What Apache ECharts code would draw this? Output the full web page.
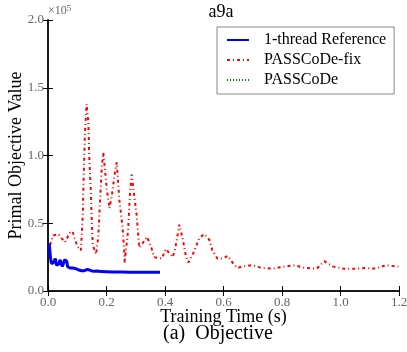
<!DOCTYPE html>
<html><head><meta charset="utf-8">
<script src="https://cdn.jsdelivr.net/npm/echarts@6/dist/echarts.min.js"></script>
<style>html,body{margin:0;padding:0;background:#fff}#c{width:407px;height:352px}</style>
</head><body><div id="c"></div>
<script>
const seriesNames = ['1-thread Reference', 'PASSCoDe-fix', 'PASSCoDe'];
const xTicks = [0, 0.2, 0.4, 0.6, 0.8, 1.0, 1.2];
const yTicks = [0, 0.5, 1.0, 1.5, 2.0];
// 1-thread Reference: [time (s), objective (x1e5)]
const refTime = [0.002,0.004,0.007,0.010,0.013,0.017,0.021,0.025,0.029,0.033,0.037,0.041,0.045,0.049,0.053,0.057,0.061,0.064,0.067,0.071,0.075,0.080,0.085,0.090,0.095,0.100,0.105,0.110,0.115,0.120,0.125,0.130,0.135,0.140,0.150,0.160,0.170,0.180,0.200,0.220,0.250,0.280,0.310,0.350,0.383];
const refObj  = [0.33,0.35,0.28,0.22,0.20,0.19,0.22,0.24,0.19,0.19,0.20,0.23,0.22,0.18,0.19,0.23,0.24,0.22,0.18,0.19,0.17,0.175,0.17,0.16,0.165,0.16,0.155,0.16,0.15,0.155,0.15,0.155,0.16,0.15,0.148,0.145,0.148,0.143,0.142,0.141,0.140,0.139,0.138,0.138,0.138];
// PASSCoDe-fix
const fixTime = [0.007,0.018,0.035,0.058,0.075,0.084,0.100,0.112,0.115,0.119,0.121,0.124,0.126,0.130,0.132,0.138,0.141,0.146,0.149,0.153,0.164,0.172,0.178,0.184,0.189,0.195,0.201,0.210,0.218,0.229,0.235,0.244,0.255,0.261,0.262,0.274,0.280,0.286,0.303,0.309,0.312,0.326,0.339,0.346,0.352,0.363,0.389,0.403,0.426,0.434,0.449,0.461,0.472,0.480,0.497,0.517,0.534,0.551,0.562,0.579,0.597,0.615,0.634,0.648,0.662,0.696,0.732,0.770,0.807,0.844,0.879,0.919,0.944,0.975,1.010,1.050,1.086,1.120,1.155,1.198];
const fixObj  = [0.34,0.41,0.42,0.36,0.43,0.44,0.33,0.30,0.40,0.57,0.77,0.99,1.15,1.31,1.38,1.24,0.99,0.75,0.55,0.34,0.27,0.40,0.67,0.92,1.02,0.89,0.75,0.61,0.70,0.88,0.95,0.67,0.47,0.28,0.21,0.45,0.71,0.86,0.56,0.40,0.32,0.36,0.40,0.36,0.33,0.25,0.24,0.31,0.25,0.30,0.49,0.38,0.25,0.21,0.28,0.39,0.42,0.38,0.30,0.24,0.24,0.26,0.20,0.17,0.18,0.19,0.17,0.165,0.18,0.19,0.17,0.165,0.22,0.18,0.165,0.165,0.17,0.165,0.19,0.18];
// PASSCoDe (not visible in the plot)
const pcTime = [];
const pcObj = [];

const zip = (a, b) => a.map((v, i) => [v, b[i]]);
const F = '"Liberation Serif", "DejaVu Serif", serif';
const chart = echarts.init(document.getElementById('c'));
chart.setOption({
  animation: false,
  grid: { left: 48, right: 8, top: 20, bottom: 61, outerBoundsMode: 'none', containLabel: false },
  legend: {
    left: 217, top: 27, orient: 'vertical', itemWidth: 22, itemHeight: 12, itemGap: 4,
    padding: [5, 8, 6, 9], borderColor: '#888', borderWidth: 1, backgroundColor: '#fff',
    itemStyle: { opacity: 0 },
    textStyle: { fontFamily: F, fontSize: 16, color: '#000', padding: [0, 0, 0, 10] },
    data: seriesNames
  },
  xAxis: [{
    type: 'value', min: 0, max: 1.2, interval: 0.2,
    name: 'Training Time (s)', nameLocation: 'middle', nameGap: 17, nameMoveOverlap: false,
    nameTextStyle: { fontFamily: F, fontSize: 18, color: '#000' },
    axisLine: { onZero: false, lineStyle: { color: '#666', width: 2 } },
    axisTick: { inside: true, length: 5, lineStyle: { color: '#000' } },
    axisLabel: { fontFamily: F, fontSize: 13, color: '#666', margin: 5, formatter: v => v.toFixed(1) },
    splitLine: { show: false }
  }, {
    type: 'value', position: 'top', min: 0, max: 1.2, interval: 0.2,
    axisLine: { show: true, lineStyle: { color: '#000', width: 1.5 } },
    axisTick: { inside: true, length: 5, lineStyle: { color: '#000' } },
    axisLabel: { show: false }, splitLine: { show: false }
  }],
  yAxis: [{
    type: 'value', min: 0, max: 2, interval: 0.5,
    name: 'Primal Objective Value', nameLocation: 'middle', nameGap: 23, nameMoveOverlap: false,
    nameTextStyle: { fontFamily: F, fontSize: 18, color: '#000' },
    axisLine: { show: true, onZero: false, lineStyle: { color: '#666', width: 2 } },
    axisTick: { show: true, inside: true, length: 5, lineStyle: { color: '#000' } },
    axisLabel: { fontFamily: F, fontSize: 13, color: '#666', margin: 4, formatter: v => v.toFixed(1) },
    splitLine: { show: false }
  }, {
    type: 'value', position: 'right', min: 0, max: 2, interval: 0.5,
    axisLine: { show: true, lineStyle: { color: '#000', width: 1.5 } },
    axisTick: { show: true, inside: true, length: 5, lineStyle: { color: '#000' } },
    axisLabel: { show: false }, splitLine: { show: false }
  }],
  graphic: [
    { type: 'text', x: 221, y: 3, style: { text: 'a9a', font: '18px ' + F, fill: '#000', textAlign: 'center' } },
    { type: 'text', x: 48, y: 4, style: { text: '×10{s|5}', rich: { s: { fontSize: 9, verticalAlign: 'top', fontFamily: F, fill: '#666', padding: [0, 0, 5, 0] } }, font: '12px ' + F, fill: '#666' } },
    { type: 'text', x: 218, y: 324, style: { text: '(a)  Objective', font: '20px ' + F, fill: '#000', textAlign: 'center' } }
  ],
  series: [
    { name: seriesNames[0], type: 'line', xAxisIndex: 0, yAxisIndex: 0, data: zip(refTime, refObj), showSymbol: false, symbol: 'none', lineStyle: { color: '#0000ff', width: 3 }, itemStyle: { color: '#0000ff' }, z: 3 },
    { name: seriesNames[1], type: 'line', xAxisIndex: 0, yAxisIndex: 0, data: zip(fixTime, fixObj), showSymbol: false, symbol: 'none', lineStyle: { color: '#ff0000', width: 2, type: [3, 3, 1, 3] }, itemStyle: { color: '#ff0000' }, z: 2 },
    { name: seriesNames[2], type: 'line', xAxisIndex: 0, yAxisIndex: 0, data: zip(pcTime, pcObj), showSymbol: false, symbol: 'none', lineStyle: { color: '#008000', width: 2, type: [1, 2] }, itemStyle: { color: '#008000' }, z: 1 }
  ]
});
</script></body></html>
